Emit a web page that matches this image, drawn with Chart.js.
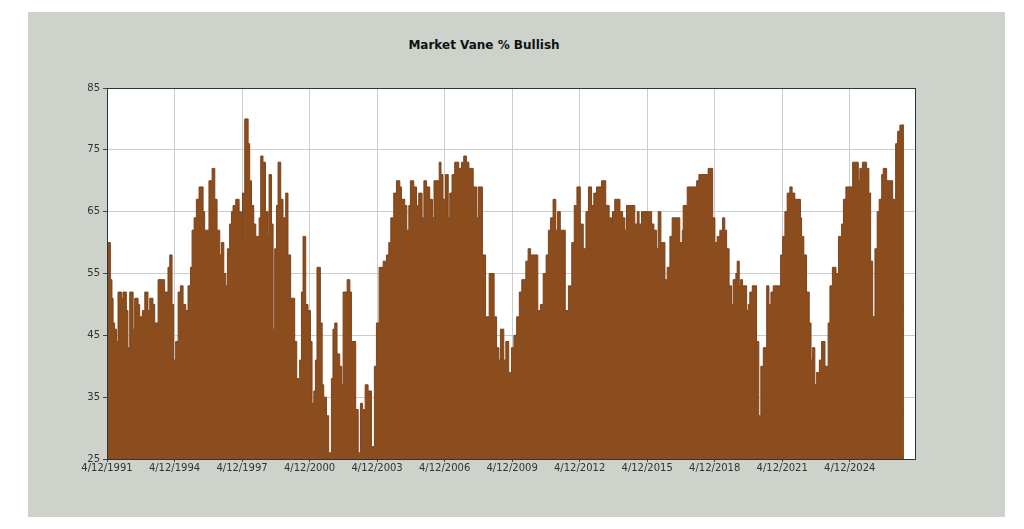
<!DOCTYPE html>
<html>
<head>
<meta charset="utf-8">
<title>Market Vane % Bullish</title>
<script src="https://cdn.jsdelivr.net/npm/chart.js@4.4.1/dist/chart.umd.min.js"></script>
<style>
  html, body { margin: 0; padding: 0; background: #fff; }
  .panel {
    position: absolute; left: 28px; top: 12px; width: 977px; height: 505px;
    background: #cdd2cb;
  }
  .title {
    position: absolute; left: 384px; top: 38px; width: 200px; text-align: center;
    font: bold 12px "DejaVu Sans", Verdana, sans-serif; color: #111;
  }
  #wrap { position: absolute; left: 0; top: 0; width: 1024px; height: 529px; }
</style>
</head>
<body>
<div class="panel"></div>
<div class="title">Market Vane % Bullish</div>
<div id="wrap"><canvas id="chart"></canvas></div>
<script>
// weekly readings, kept only where the value changes (decimal years)
const dates = [
  1991.28, 1991.43, 1991.50, 1991.55, 1991.62, 1991.70, 1991.77, 1991.92, 1991.99, 1992.14,
  1992.21, 1992.29, 1992.44, 1992.51, 1992.66, 1992.73, 1992.85, 1992.96, 1993.10, 1993.18,
  1993.32, 1993.40, 1993.55, 1993.84, 1993.99, 1994.07, 1994.17, 1994.24, 1994.33, 1994.44,
  1994.54, 1994.66, 1994.78, 1994.88, 1994.99, 1995.06, 1995.15, 1995.25, 1995.37, 1995.55,
  1995.62, 1995.81, 1995.95, 1996.07, 1996.17, 1996.29, 1996.36, 1996.47, 1996.56, 1996.63,
  1996.73, 1996.81, 1996.88, 1997.00, 1997.15, 1997.25, 1997.30, 1997.40, 1997.55, 1997.62,
  1997.70, 1997.80, 1997.89, 1998.04, 1998.11, 1998.21, 1998.32, 1998.44, 1998.48, 1998.59,
  1998.66, 1998.73, 1998.81, 1998.88, 1999.00, 1999.10, 1999.22, 1999.32, 1999.44, 1999.62,
  1999.71, 1999.84, 1999.92, 1999.99, 2000.11, 2000.21, 2000.32, 2000.39, 2000.47, 2000.54,
  2000.61, 2000.76, 2000.84, 2000.91, 2001.03, 2001.13, 2001.25, 2001.32, 2001.40, 2001.50,
  2001.62, 2001.71, 2001.77, 2001.95, 2002.07, 2002.14, 2002.33, 2002.44, 2002.54, 2002.63,
  2002.75, 2002.88, 2003.03, 2003.16, 2003.25, 2003.37, 2003.55, 2003.70, 2003.80, 2003.89,
  2004.02, 2004.14, 2004.29, 2004.36, 2004.51, 2004.60, 2004.69, 2004.76, 2004.91, 2005.03,
  2005.13, 2005.28, 2005.36, 2005.48, 2005.62, 2005.74, 2005.81, 2006.04, 2006.12, 2006.21,
  2006.32, 2006.44, 2006.51, 2006.61, 2006.73, 2006.91, 2007.03, 2007.13, 2007.25, 2007.36,
  2007.55, 2007.70, 2007.77, 2007.96, 2008.10, 2008.26, 2008.48, 2008.59, 2008.69, 2008.76,
  2008.91, 2009.00, 2009.13, 2009.25, 2009.36, 2009.48, 2009.60, 2009.71, 2009.89, 2009.99,
  2010.10, 2010.42, 2010.54, 2010.66, 2010.79, 2010.89, 2010.99, 2011.10, 2011.22, 2011.30,
  2011.42, 2011.64, 2011.78, 2011.93, 2012.04, 2012.16, 2012.31, 2012.44, 2012.56, 2012.67,
  2012.81, 2012.91, 2013.03, 2013.25, 2013.44, 2013.59, 2013.70, 2013.74, 2013.84, 2014.07,
  2014.19, 2014.29, 2014.36, 2014.73, 2014.84, 2014.92, 2015.03, 2015.48, 2015.58, 2015.70,
  2015.77, 2015.89, 2016.07, 2016.17, 2016.29, 2016.39, 2016.73, 2016.84, 2016.88, 2017.06,
  2017.48, 2017.58, 2017.99, 2018.19, 2018.29, 2018.39, 2018.51, 2018.63, 2018.73, 2018.81,
  2018.92, 2019.03, 2019.10, 2019.22, 2019.28, 2019.37, 2019.43, 2019.52, 2019.70, 2019.77,
  2019.84, 2019.95, 2020.14, 2020.24, 2020.33, 2020.44, 2020.59, 2020.69, 2020.78, 2020.88,
  2021.21, 2021.30, 2021.40, 2021.50, 2021.62, 2021.72, 2021.84, 2022.09, 2022.14, 2022.24,
  2022.36, 2022.48, 2022.56, 2022.62, 2022.73, 2022.81, 2022.93, 2023.03, 2023.18, 2023.32,
  2023.40, 2023.51, 2023.67, 2023.78, 2023.92, 2024.00, 2024.11, 2024.41, 2024.66, 2024.73,
  2024.84, 2025.03, 2025.13, 2025.21, 2025.30, 2025.40, 2025.50, 2025.59, 2025.70, 2025.77,
  2025.92, 2026.19, 2026.32, 2026.41, 2026.51, 2026.69
];

const bullish = [
  60, 54, 51, 47, 46, 44, 52, 51, 52, 49,
  43, 52, 46, 51, 50, 48, 49, 52, 49, 51,
  50, 47, 54, 52, 56, 58, 50, 41, 44, 52,
  53, 50, 49, 53, 56, 62, 64, 67, 69, 65,
  62, 70, 72, 67, 62, 58, 60, 55, 53, 59,
  63, 65, 66, 67, 65, 60, 68, 80, 76, 70,
  66, 63, 61, 64, 74, 73, 65, 61, 71, 63,
  46, 59, 66, 73, 67, 64, 68, 58, 51, 44,
  38, 41, 52, 61, 50, 49, 44, 34, 36, 41,
  56, 47, 37, 35, 32, 26, 38, 46, 47, 42,
  40, 37, 52, 54, 52, 44, 33, 26, 34, 33,
  37, 36, 27, 40, 47, 56, 57, 58, 60, 64,
  68, 70, 69, 67, 66, 62, 66, 70, 69, 66,
  68, 64, 70, 69, 67, 64, 70, 73, 71, 67,
  71, 64, 68, 71, 73, 72, 73, 74, 73, 72,
  69, 64, 69, 58, 48, 55, 48, 43, 41, 46,
  41, 44, 39, 43, 45, 48, 52, 54, 57, 59,
  58, 49, 50, 55, 58, 62, 64, 67, 62, 65,
  62, 49, 53, 60, 66, 69, 63, 59, 65, 69,
  66, 68, 69, 70, 66, 64, 63, 65, 67, 65,
  64, 62, 66, 63, 65, 63, 65, 63, 62, 59,
  65, 60, 54, 56, 61, 64, 60, 62, 66, 69,
  70, 71, 72, 64, 60, 61, 62, 64, 62, 59,
  53, 50, 54, 55, 57, 53, 54, 53, 49, 50,
  52, 53, 44, 32, 40, 43, 53, 50, 52, 53,
  58, 61, 65, 68, 69, 68, 67, 64, 61, 58,
  52, 47, 41, 43, 37, 39, 41, 44, 40, 47,
  53, 56, 55, 61, 63, 67, 69, 73, 70, 72,
  73, 72, 68, 57, 48, 59, 65, 67, 71, 72,
  70, 67, 76, 78, 79, 79
];

const tickYears = [1991.28, 1994.28, 1997.28, 2000.28, 2003.28, 2006.28,
                   2009.28, 2012.28, 2015.28, 2018.28, 2021.28, 2024.28];
const tickLabels = ['4/12/1991', '4/12/1994', '4/12/1997', '4/12/2000', '4/12/2003', '4/12/2006',
                    '4/12/2009', '4/12/2012', '4/12/2015', '4/12/2018', '4/12/2021', '4/12/2024'];

const points = dates.map((d, i) => ({ x: d, y: bullish[i] }));

const frame = {
  id: 'frame',
  afterDraw(chart) {
    const a = chart.chartArea;
    const c = chart.ctx;
    c.save();
    c.strokeStyle = '#333';
    c.lineWidth = 1;
    c.strokeRect(Math.round(a.left) + 0.5, Math.round(a.top) + 0.5,
                 Math.round(a.right - a.left), Math.round(a.bottom - a.top));
    c.restore();
  }
};

const whiteArea = {
  id: 'whiteArea',
  beforeDraw(chart) {
    const a = chart.chartArea;
    chart.ctx.save();
    chart.ctx.fillStyle = '#fff';
    chart.ctx.fillRect(a.left, a.top, a.right - a.left, a.bottom - a.top);
    chart.ctx.restore();
  }
};

Chart.defaults.font.family = '"DejaVu Sans", Verdana, sans-serif';
Chart.defaults.font.size = 10;
Chart.defaults.color = '#333';

new Chart(document.getElementById('chart'), {
  type: 'line',
  data: {
    datasets: [{
      label: 'Market Vane % Bullish',
      data: points,
      stepped: 'before',
      fill: 'start',
      backgroundColor: '#8b4c1e',
      borderColor: '#7e431a',
      borderWidth: 1,
      pointRadius: 0,
      tension: 0
    }]
  },
  options: {
    responsive: true,
    maintainAspectRatio: false,
    animation: false,
    layout: { padding: { top: 88, right: 109, left: 0, bottom: 0 } },
    plugins: {
      legend: { display: false },
      tooltip: { enabled: false }
    },
    scales: {
      x: {
        type: 'linear',
        min: 1991.28,
        max: 2027.18,
        afterBuildTicks: (axis) => { axis.ticks = tickYears.map(v => ({ value: v })); },
        afterFit: (axis) => { axis.height = 70; },
        grid: { color: '#cccccc', tickColor: '#444', tickLength: 3 },
        border: { display: false },
        ticks: {
          autoSkip: false,
          maxRotation: 0,
          padding: 0,
          callback: (value, index) => tickLabels[index]
        }
      },
      y: {
        min: 25,
        max: 85,
        afterFit: (axis) => { axis.width = 107; },
        grid: { color: '#cccccc', tickColor: '#444', tickLength: 4 },
        border: { display: false },
        ticks: { stepSize: 10, padding: 3 }
      }
    }
  },
  plugins: [whiteArea, frame]
});
</script>
</body>
</html>
